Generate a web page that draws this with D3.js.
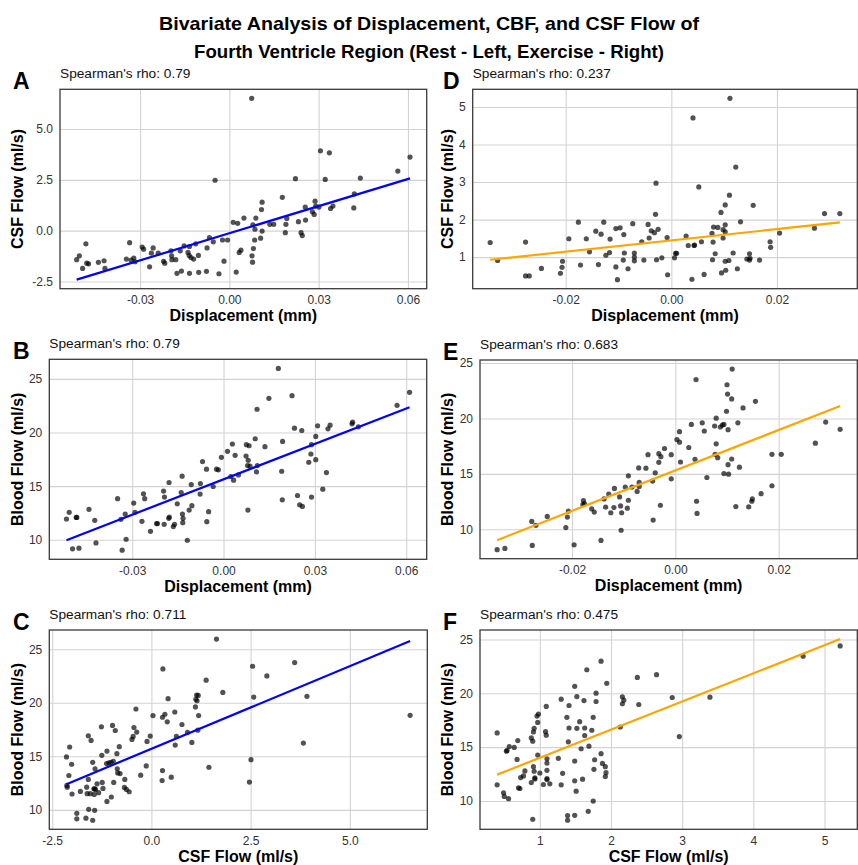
<!DOCTYPE html>
<html><head><meta charset="utf-8">
<script src="https://cdn.jsdelivr.net/npm/d3@7"></script>
<style>
body{margin:0;background:#fff}
svg text{font-family:"Liberation Sans",Arial,Helvetica,sans-serif}
</style>
</head><body>
<svg id="chart" width="858" height="865"></svg>
<script>
// ---------------- DATA ----------------
// Rest
const aDisplacement = [-0.0513,-0.0504,-0.0493,-0.0482,-0.0479,-0.0473,-0.0440,-0.0421,-0.0418,-0.0346,
-0.0335,-0.0330,-0.0321,-0.0317,-0.0293,-0.0288,-0.0268,-0.0262,-0.0256,-0.0239,
-0.0221,-0.0217,-0.0196,-0.0194,-0.0193,-0.0180,-0.0176,-0.0165,-0.0161,-0.0152,
-0.0139,-0.0135,-0.0134,-0.0134,-0.0129,-0.0120,-0.0113,-0.0104,-0.0103,-0.0077,
-0.0075,-0.0067,-0.0054,-0.0048,-0.0035,-0.0023,-0.0018,-0.0006,0.0013,0.0023,
0.0028,0.0033,0.0039,0.0049,0.0075,0.0076,0.0078,0.0079,0.0081,0.0085,
0.0086,0.0089,0.0105,0.0108,0.0110,0.0110,0.0136,0.0149,0.0178,0.0188,
0.0190,0.0193,0.0222,0.0232,0.0241,0.0245,0.0255,0.0256,0.0279,0.0285,
0.0288,0.0290,0.0301,0.0306,0.0322,0.0336,0.0340,0.0348,0.0418,0.0420,
0.0440,0.0566,0.0607];
const aCsf = [-1.43,-1.24,-1.86,-0.65,-1.60,-1.63,-1.56,-1.48,-1.86,-1.40,
-0.59,-1.45,-1.35,-1.53,-0.81,-0.91,-1.78,-1.11,-0.85,-1.11,
-1.51,-1.60,-0.99,-1.24,-1.43,-1.43,-2.10,-0.99,-1.99,-0.75,
-1.07,-1.22,-2.10,-0.78,-1.32,-1.40,-0.65,-1.22,-2.05,-2.00,
-0.85,-0.34,-0.55,2.48,-2.12,-0.46,-1.50,-0.46,0.41,-2.04,
0.36,-1.07,-0.96,0.62,6.51,-1.24,-1.55,0.28,-0.88,-0.46,
0.07,0.62,-0.37,1.04,1.40,-0.02,0.31,0.31,1.64,-0.10,
0.31,0.60,2.56,0.44,-0.10,-0.24,1.16,0.52,0.93,0.80,
1.45,1.21,1.16,3.93,2.52,3.83,1.09,1.21,1.12,1.81,
2.59,2.93,3.62];

const bDisplacement = [-0.0516,-0.0507,-0.0496,-0.0484,-0.0482,-0.0475,-0.0442,-0.0423,-0.0419,-0.0348,
-0.0337,-0.0333,-0.0323,-0.0320,-0.0295,-0.0291,-0.0268,-0.0263,-0.0259,-0.0240,
-0.0220,-0.0217,-0.0197,-0.0195,-0.0194,-0.0180,-0.0179,-0.0178,-0.0165,-0.0161,
-0.0152,-0.0139,-0.0136,-0.0135,-0.0134,-0.0133,-0.0119,-0.0113,-0.0106,-0.0104,
-0.0077,-0.0076,-0.0069,-0.0056,-0.0055,-0.0049,-0.0034,-0.0023,-0.0017,-0.0007,
0.0013,0.0024,0.0029,0.0033,0.0038,0.0049,0.0074,0.0075,0.0079,0.0080,
0.0081,0.0084,0.0087,0.0104,0.0108,0.0110,0.0111,0.0136,0.0149,0.0180,
0.0191,0.0193,0.0194,0.0225,0.0233,0.0243,0.0250,0.0257,0.0259,0.0280,
0.0287,0.0289,0.0289,0.0303,0.0303,0.0309,0.0326,0.0338,0.0343,0.0350,
0.0422,0.0424,0.0443,0.0570,0.0611];
const bBlood = [11.94,12.56,9.16,12.09,12.09,9.22,12.84,11.82,9.71,13.83,
11.91,9.03,12.40,10.05,13.42,12.56,11.72,14.29,13.83,10.79,
11.51,11.51,14.54,11.44,13.98,12.00,15.34,12.12,11.23,11.44,
13.36,14.41,15.93,12.40,11.60,12.00,9.96,12.77,15.15,13.18,
14.26,15.25,17.29,16.58,11.69,12.62,14.97,16.58,16.52,17.69,
18.25,15.90,18.93,15.56,17.88,16.05,17.81,18.87,16.92,12.77,
17.41,18.77,16.86,19.42,16.33,22.17,16.92,18.68,23.19,25.98,
16.39,13.73,19.17,23.44,20.41,14.13,13.27,20.19,13.11,17.23,
18.00,18.87,13.98,19.64,17.47,20.63,14.72,16.27,20.35,20.69,
20.81,20.97,20.53,22.54,23.75];

const cCsf = [-2.14,-2.13,-2.12,-2.08,-2.06,-2.01,-2.00,-1.88,-1.88,-1.79,
-1.65,-1.63,-1.62,-1.59,-1.59,-1.58,-1.54,-1.52,-1.48,-1.48,
-1.45,-1.44,-1.43,-1.43,-1.42,-1.41,-1.37,-1.33,-1.26,-1.25,
-1.24,-1.22,-1.13,-1.12,-1.12,-1.07,-1.02,-1.01,-0.98,-0.96,
-0.95,-0.91,-0.87,-0.86,-0.85,-0.81,-0.79,-0.68,-0.67,-0.63,
-0.56,-0.49,-0.46,-0.44,-0.39,-0.37,-0.27,-0.13,-0.11,-0.03,
0.04,0.27,0.28,0.28,0.29,0.34,0.40,0.42,0.50,0.59,
0.60,0.63,0.77,0.91,1.02,1.11,1.12,1.14,1.15,1.17,
1.18,1.19,1.38,1.45,1.64,1.80,2.47,2.51,2.55,2.58,
2.91,3.61,3.83,3.92,6.52];
const cBlood = [14.94,12.28,12.12,13.21,15.87,14.26,11.48,9.68,9.16,11.72,
9.22,12.12,11.51,16.92,12.84,10.05,11.51,16.48,9.03,14.44,
11.97,11.44,9.96,11.97,13.83,11.91,12.43,11.60,17.75,15.09,
12.56,12.00,14.32,10.79,15.49,14.38,14.44,11.20,17.88,14.54,
12.56,17.41,15.25,13.83,13.45,15.90,13.39,12.09,12.84,11.91,
11.69,16.58,16.86,17.69,19.42,17.26,13.24,14.10,16.39,16.89,
18.80,12.74,13.67,18.65,23.16,18.93,18.22,20.38,13.05,19.14,
16.05,16.86,17.97,17.23,16.30,19.61,20.32,20.72,20.19,17.44,
20.69,18.80,22.11,13.98,25.95,20.97,12.59,14.69,23.41,20.53,
22.51,23.75,16.24,20.60,18.83];

// Exercise
const dDisplacement = [-0.0343,-0.0329,-0.0276,-0.0276,-0.0269,-0.0246,-0.0210,-0.0207,-0.0206,-0.0194,
-0.0176,-0.0172,-0.0161,-0.0155,-0.0143,-0.0138,-0.0133,-0.0128,-0.0124,-0.0117,
-0.0116,-0.0105,-0.0105,-0.0102,-0.0097,-0.0091,-0.0090,-0.0089,-0.0082,-0.0073,
-0.0070,-0.0070,-0.0070,-0.0056,-0.0052,-0.0044,-0.0042,-0.0038,-0.0032,-0.0030,
-0.0029,-0.0028,-0.0025,-0.0018,-0.0008,-0.0007,0.0006,0.0008,0.0010,0.0028,
0.0032,0.0039,0.0041,0.0043,0.0044,0.0052,0.0057,0.0062,0.0077,0.0078,
0.0079,0.0080,0.0083,0.0088,0.0094,0.0095,0.0098,0.0098,0.0102,0.0102,
0.0102,0.0102,0.0103,0.0109,0.0110,0.0111,0.0117,0.0122,0.0125,0.0131,
0.0143,0.0148,0.0148,0.0149,0.0155,0.0167,0.0187,0.0188,0.0205,0.0271,
0.0290,0.0319];
const dCsf = [1.39,0.91,1.40,0.50,0.50,0.70,0.57,0.73,0.89,1.49,
1.93,0.79,1.49,1.14,1.69,0.80,1.61,1.93,1.05,1.12,
1.48,0.74,1.76,0.40,1.78,0.92,1.60,1.11,0.69,1.89,
1.11,1.00,0.90,1.41,0.92,1.87,1.51,1.70,1.65,2.14,
2.97,0.93,1.74,0.98,1.52,0.53,0.98,1.10,1.10,1.56,
1.31,0.41,4.71,1.31,1.32,2.87,1.41,0.54,1.63,0.93,
1.40,1.80,1.09,1.79,2.19,0.58,1.51,1.73,1.86,1.67,
0.89,2.39,0.65,0.91,2.65,5.23,1.11,3.40,0.69,1.94,
0.95,1.09,0.92,0.97,2.38,0.92,1.41,1.26,1.64,1.77,
2.16,2.16];

const eDisplacement = [-0.0345,-0.0330,-0.0278,-0.0277,-0.0270,-0.0248,-0.0212,-0.0209,-0.0207,-0.0196,
-0.0179,-0.0178,-0.0176,-0.0162,-0.0157,-0.0144,-0.0138,-0.0135,-0.0129,-0.0125,
-0.0119,-0.0118,-0.0108,-0.0106,-0.0105,-0.0104,-0.0097,-0.0093,-0.0091,-0.0091,
-0.0084,-0.0074,-0.0071,-0.0070,-0.0070,-0.0057,-0.0053,-0.0044,-0.0043,-0.0039,
-0.0032,-0.0032,-0.0029,-0.0028,-0.0021,-0.0008,-0.0008,0.0003,0.0008,0.0008,
0.0010,0.0026,0.0031,0.0038,0.0040,0.0041,0.0042,0.0052,0.0056,0.0061,
0.0076,0.0077,0.0079,0.0079,0.0082,0.0087,0.0091,0.0094,0.0094,0.0099,
0.0100,0.0101,0.0102,0.0102,0.0103,0.0109,0.0109,0.0110,0.0117,0.0121,
0.0124,0.0131,0.0142,0.0148,0.0149,0.0155,0.0166,0.0187,0.0187,0.0205,
0.0271,0.0291,0.0319];
const eBlood = [8.16,8.27,10.71,8.54,10.36,11.16,10.15,11.10,11.64,8.60,
12.23,12.59,12.32,11.85,11.55,8.99,12.74,11.99,13.18,11.49,
11.96,13.69,12.92,12.11,9.91,11.49,13.81,11.90,12.62,14.82,
13.81,13.42,15.54,14.23,13.87,15.51,16.73,14.35,10.83,15.09,
16.04,16.82,12.17,16.55,17.29,16.73,14.55,18.10,17.86,18.81,
16.07,17.38,19.46,16.31,23.51,12.53,11.43,19.61,18.87,14.67,
19.32,16.76,17.71,20.03,16.46,19.23,19.40,15.03,19.46,20.65,
23.04,22.20,15.83,18.99,14.97,21.76,16.34,24.46,12.05,19.61,
15.60,20.95,12.02,12.53,12.74,21.55,13.21,13.93,16.76,16.76,
17.77,19.67,19.02];

const fCsf = [0.40,0.40,0.49,0.50,0.53,0.54,0.56,0.57,0.64,0.68,
0.69,0.70,0.72,0.73,0.77,0.79,0.88,0.88,0.90,0.90,
0.91,0.91,0.92,0.92,0.93,0.93,0.96,0.97,0.97,0.98,
1.00,1.05,1.08,1.09,1.09,1.10,1.10,1.10,1.10,1.10,
1.14,1.26,1.30,1.30,1.32,1.38,1.39,1.39,1.40,1.41,
1.41,1.49,1.49,1.49,1.49,1.51,1.52,1.52,1.56,1.58,
1.60,1.62,1.63,1.63,1.66,1.68,1.69,1.73,1.75,1.75,
1.76,1.77,1.79,1.79,1.86,1.86,1.88,1.92,1.92,1.93,
1.94,2.13,2.16,2.16,2.18,2.37,2.39,2.64,2.86,2.96,
3.39,4.70,5.22];
const fBlood = [16.32,11.50,10.76,10.42,14.63,14.69,10.21,15.06,14.97,13.86,
15.61,11.22,11.16,12.17,12.33,12.79,11.71,15.86,15.55,8.30,
16.41,13.19,16.75,12.76,12.05,12.14,17.89,14.26,17.30,18.07,
12.60,11.53,16.44,18.78,16.11,13.92,12.85,13.52,12.08,11.99,
11.59,13.96,19.46,11.50,12.57,17.77,8.21,8.64,15.49,18.87,
16.78,20.65,8.67,13.71,11.87,10.91,19.70,16.75,17.37,14.85,
12.02,19.33,16.78,16.08,22.19,9.04,15.09,16.57,9.99,17.77,
12.94,13.83,19.24,20.01,14.39,22.99,13.49,13.19,12.27,12.63,
20.93,16.87,19.67,19.03,19.36,21.48,18.96,21.73,19.61,15.98,
19.64,23.45,24.40];

// Regression fits [slope, intercept]
const fitA = [44.5, -0.127];
const fitB = [110.0, 15.64];
const fitC = [1.543, 15.70];
const fitD = [15.03, 1.4455];
const fitE = [182.4, 15.31];
const fitF = [2.613, 11.40];

const panelLetters = ["A","B","C","D","E","F"];
const rhoValues = ["0.79","0.79","0.711","0.237","0.683","0.475"];

// Tick values and labels
const dispRestTicks = [-0.03, 0.00, 0.03, 0.06];
const dispRestLabels = ["-0.03","0.00","0.03","0.06"];
const csfRestTicks = [-2.5, 0.0, 2.5, 5.0];
const csfRestLabels = ["-2.5","0.0","2.5","5.0"];
const bloodTicks = [10, 15, 20, 25];
const bloodLabels = ["10","15","20","25"];
const dispExTicks = [-0.02, 0.00, 0.02];
const dispExLabels = ["-0.02","0.00","0.02"];
const csfExYTicks = [1, 2, 3, 4, 5];
const csfExYLabels = ["1","2","3","4","5"];
const csfExXTicks = [1, 2, 3, 4, 5];
const csfExXLabels = ["1","2","3","4","5"];

const titleLines = ["Bivariate Analysis of Displacement, CBF, and CSF Flow of",
                    "Fourth Ventricle Region (Rest - Left, Exercise - Right)"];

// ---------------- DRAW ----------------
const REST = "#0000ff", EXER = "#ffa500";
const panels = [
  {x:aDisplacement, y:aCsf, fit:fitA, col:REST, xt:dispRestTicks, xl:dispRestLabels, yt:csfRestTicks, yl:csfRestLabels,
   xTitle:"Displacement (mm)", yTitle:"CSF Flow (ml/s)", box:[60,89.3,426.7,288.7], lx:13, yx:23},
  {x:bDisplacement, y:bBlood, fit:fitB, col:REST, xt:dispRestTicks, xl:dispRestLabels, yt:bloodTicks, yl:bloodLabels,
   xTitle:"Displacement (mm)", yTitle:"Blood Flow (ml/s)", box:[49.3,359.3,426.7,559.3], lx:13, yx:23},
  {x:cCsf, y:cBlood, fit:fitC, col:REST, xt:csfRestTicks, xl:csfRestLabels, yt:bloodTicks, yl:bloodLabels,
   xTitle:"CSF Flow (ml/s)", yTitle:"Blood Flow (ml/s)", box:[49.3,630,427.3,829.3], lx:13, yx:23},
  {x:dDisplacement, y:dCsf, fit:fitD, col:EXER, xt:dispExTicks, xl:dispExLabels, yt:csfExYTicks, yl:csfExYLabels,
   xTitle:"Displacement (mm)", yTitle:"CSF Flow (ml/s)", box:[472.7,89.3,857.3,288.7], lx:443, yx:453},
  {x:eDisplacement, y:eBlood, fit:fitE, col:EXER, xt:dispExTicks, xl:dispExLabels, yt:bloodTicks, yl:bloodLabels,
   xTitle:"Displacement (mm)", yTitle:"Blood Flow (ml/s)", box:[480,360,857.3,558.7], lx:443, yx:453},
  {x:fCsf, y:fBlood, fit:fitF, col:EXER, xt:csfExXTicks, xl:csfExXLabels, yt:bloodTicks, yl:bloodLabels,
   xTitle:"CSF Flow (ml/s)", yTitle:"Blood Flow (ml/s)", box:[480,630,857.3,829.3], lx:443, yx:453}
];

const svg = d3.select("#chart");
svg.append("rect").attr("width",858).attr("height",865).attr("fill","#fff");

const titleWidths = [540, 470];
svg.selectAll("text.title").data(titleLines).join("text")
  .attr("class","title").attr("x",429).attr("y",(d,i)=>30+i*28)
  .attr("text-anchor","middle").attr("font-size",19).attr("font-weight","bold").attr("fill","#000")
  .attr("textLength",(d,i)=>titleWidths[i]).attr("lengthAdjust","spacingAndGlyphs")
  .text(d=>d);

function pad(e){const d=e[1]-e[0];return [e[0]-0.05*d,e[1]+0.05*d];}

panels.forEach((p,pi)=>{
  const [L,T,R,B] = p.box, W=R-L, H=B-T;
  const xe = d3.extent(p.x);
  const lineY = xe.map(v=>p.fit[1]+p.fit[0]*v);
  const ye = d3.extent(p.y.concat(lineY));
  const xs = d3.scaleLinear().domain(pad(xe)).range([0,W]);
  const ys = d3.scaleLinear().domain(pad(ye)).range([H,0]);
  const g = svg.append("g").attr("transform",`translate(${L},${T})`);

  // grid
  const gx = g.append("g").attr("transform",`translate(0,${H})`)
    .call(d3.axisBottom(xs).tickValues(p.xt).tickSize(-H).tickFormat(""));
  const gy = g.append("g").call(d3.axisLeft(ys).tickValues(p.yt).tickSize(-W).tickFormat(""));
  [gx,gy].forEach(a=>{a.select(".domain").remove();a.selectAll("line").attr("stroke","#d3d3d3").attr("stroke-width",1.1);});

  // tick labels
  const lx = g.append("g").attr("transform",`translate(0,${H})`)
    .call(d3.axisBottom(xs).tickValues(p.xt).tickSize(0).tickPadding(7).tickFormat((d,i)=>p.xl[i]));
  const ly = g.append("g")
    .call(d3.axisLeft(ys).tickValues(p.yt).tickSize(0).tickPadding(7).tickFormat((d,i)=>p.yl[i]));
  [lx,ly].forEach(a=>{a.select(".domain").remove();a.attr("font-family",null).attr("font-size",null);
    a.selectAll("text").attr("font-size",12).attr("fill","#333");});

  // points
  const pts = p.x.map((v,i)=>[v,p.y[i]]);
  g.append("g").selectAll("circle").data(pts).join("circle")
    .attr("cx",d=>xs(d[0])).attr("cy",d=>ys(d[1])).attr("r",2.6)
    .attr("fill","#000").attr("fill-opacity",0.68);

  // regression line
  g.append("path").datum(xe.map((v,i)=>[v,lineY[i]]))
    .attr("d",d3.line().x(d=>xs(d[0])).y(d=>ys(d[1])))
    .attr("stroke",p.col).attr("stroke-width",2.2).attr("fill","none");

  // frame
  g.append("rect").attr("width",W).attr("height",H).attr("fill","none")
    .attr("stroke","#3a3a3a").attr("stroke-width",1.3);

  // axis titles
  g.append("text").attr("x",W/2).attr("y",H+32.5).attr("text-anchor","middle")
    .attr("font-size",16).attr("font-weight","bold").attr("fill","#000").text(p.xTitle);
  svg.append("text").attr("transform",`translate(${p.yx},${T+H/2}) rotate(-90)`).attr("text-anchor","middle")
    .attr("font-size",16).attr("font-weight","bold").attr("fill","#000").text(p.yTitle);

  // rho annotation + panel letter
  g.append("text").attr("x",0).attr("y",-11.5).attr("font-size",13.7).attr("fill","#111")
    .text("Spearman's rho: "+rhoValues[pi]);
  svg.append("text").attr("x",p.lx).attr("y",T-0.5).attr("font-size",23).attr("font-weight","bold")
    .attr("fill","#000").text(panelLetters[pi]);
});
</script>
</body></html>
